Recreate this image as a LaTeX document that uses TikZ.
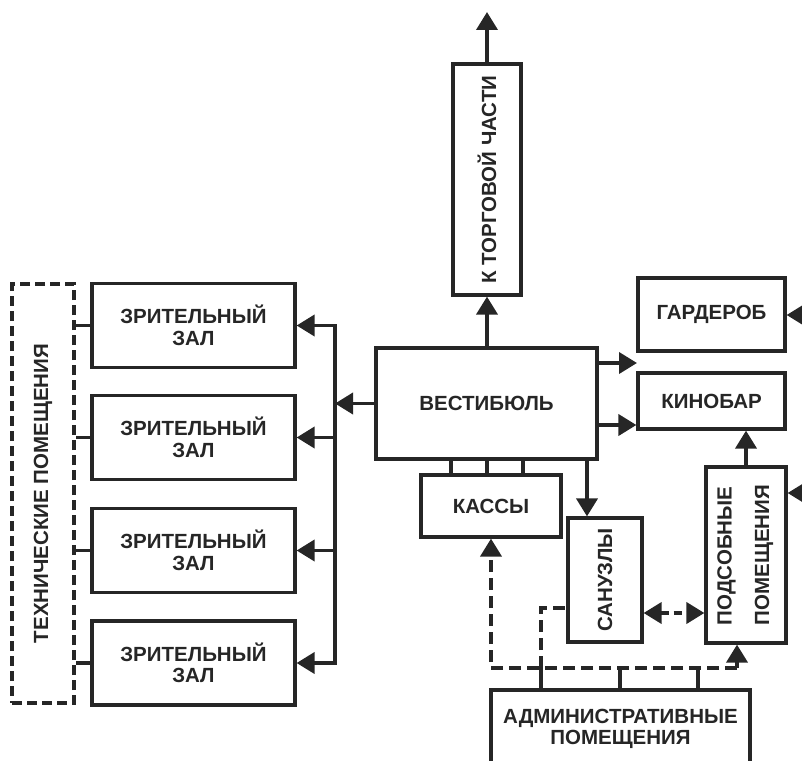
\documentclass[tikz,border=0pt]{standalone}
\usepackage{fontspec}
\setmainfont{Liberation Sans}
\usepackage{graphicx}
\usetikzlibrary{arrows.meta}
\usetikzlibrary{calc}
\usetikzlibrary{positioning}
\definecolor{ink}{HTML}{262626}

\begin{document}
\begin{tikzpicture}[x=1pt, y=-1pt,
        blok/.style={draw=ink, line width=3.2pt, fill=white, text=ink, align=center, inner sep=0pt,
            font=\bfseries\fontsize{20.5}{21.5}\selectfont},
        techblok/.style={blok, dash pattern=on 10pt off 5pt},
        link/.style={draw=ink, line width=3.8pt},
        arr/.style={link, -{Triangle[length=18pt, width=21pt]}},
        dlink/.style={link, dash pattern=on 12pt off 6pt},
        darr/.style={dlink, -{Triangle[length=18pt, width=21pt]}}]
        \useasboundingbox (0,0) rectangle (802,760);
        \clip (0,0) rectangle (802,760);

        \node[blok, minimum width=68pt, minimum height=231pt] (torg) at (487,179.5) {\rotatebox{90}{К ТОРГОВОЙ ЧАСТИ}};
        \node[blok, minimum width=221pt, minimum height=111pt] (vest) at (486.5,403.5) {ВЕСТИБЮЛЬ};
        \node[blok, minimum width=140pt, minimum height=62pt] (kassy) at (491,506) {КАССЫ};
        \node[blok, minimum width=74pt, minimum height=124pt] (sanuz) at (605,580) {\rotatebox{90}{САНУЗЛЫ}};
        \node[blok, minimum width=147pt, minimum height=73pt] (garder) at (711.5,314.5) {ГАРДЕРОБ};
        \node[blok, minimum width=147pt, minimum height=56pt] (kinobar) at (711.5,401) {КИНОБАР};
        \node[blok, minimum width=80pt, minimum height=176pt] (podsob) at (746,555)
            {\rotatebox{90}{\begin{tabular}{@{}l@{}}ПОДСОБНЫЕ\\[16pt]ПОМЕЩЕНИЯ\end{tabular}}};
        \node[blok, minimum width=259pt, minimum height=78pt] (admin) at (620.5,729) {АДМИНИСТРАТИВНЫЕ\\ПОМЕЩЕНИЯ};
        \node[techblok, minimum width=62pt, minimum height=419pt] (tech) at (43,493.5) {\rotatebox{90}{ТЕХНИЧЕСКИЕ ПОМЕЩЕНИЯ}};

        % four halls, one under the other
        \foreach \i/\y in {1/325.5, 2/437.5, 3/550.5, 4/663}
            \node[blok, minimum width=203pt, minimum height=84pt] (zal\i) at (193.5,\y) {ЗРИТЕЛЬНЫЙ\\ЗАЛ};

        \coordinate (bus) at (335,0);
        \coordinate (up) at (487,12);
        \coordinate (ve1) at (637,363);
        \coordinate (ve2) at (0,425);
        \coordinate (vs) at (587,0);
        \coordinate (gin) at (815,315);
        \coordinate (pin) at (815,493);
        \coordinate (sp) at (0,613);
        \coordinate (dl) at (491,668);
        \coordinate (dr) at (737,668);
        \coordinate (a1) at (541,668);
        \coordinate (a2) at (620,668);
        \coordinate (a3) at (698,668);
        \coordinate (sv) at (541,608);

        \draw[arr] (torg.north) -- (up);
        \draw[arr] (vest.north -| torg.south) -- (torg.south);
        \draw[arr] (vest.west) -- (vest.west -| bus);
        \draw[link, line cap=rect] (zal1.east -| bus) -- (zal4.east -| bus);
        \foreach \i in {1,...,4} {
            \draw[arr] (zal\i.east -| bus) -- (zal\i.east);
            \draw[link, line width=3.4pt] (zal\i.west) -- (zal\i.west -| tech.east);
        }

        \foreach \x/\w in {451/3.2pt, 487/3.8pt, 523/3.2pt} {
            \coordinate (kx) at (\x,0);
            \draw[link, line width=\w] (kx |- vest.south) -- (kx |- kassy.north);
        }
        \draw[arr] (vs |- vest.south) -- (vs |- sanuz.north);
        \draw[arr] (ve1 -| vest.east) -- (ve1);
        \draw[arr] (ve2 -| vest.east) -- (ve2 -| kinobar.west);
        \draw[arr] (gin) -- (gin -| garder.east);
        \draw[arr] (pin) -- (pin -| podsob.east);
        \draw[arr] (podsob.north) -- (podsob.north |- kinobar.south);

        % service links
        \draw[dlink, {Triangle[length=18pt, width=21pt]}-{Triangle[length=18pt, width=21pt]}, dash pattern=on 8pt off 5pt]
            (sp -| sanuz.east) -- (sp -| podsob.west);
        \draw[darr] (dr) -- (dl) -- (dl |- kassy.south);
        \draw[darr] (dr) -- (dr |- podsob.south);
        \draw[dlink] (a1) -- (sv) -- (sv -| sanuz.west);
        \foreach \a in {a1,a2,a3}
            \draw[link] (\a) -- (\a |- admin.north);
\end{tikzpicture}
\end{document}
